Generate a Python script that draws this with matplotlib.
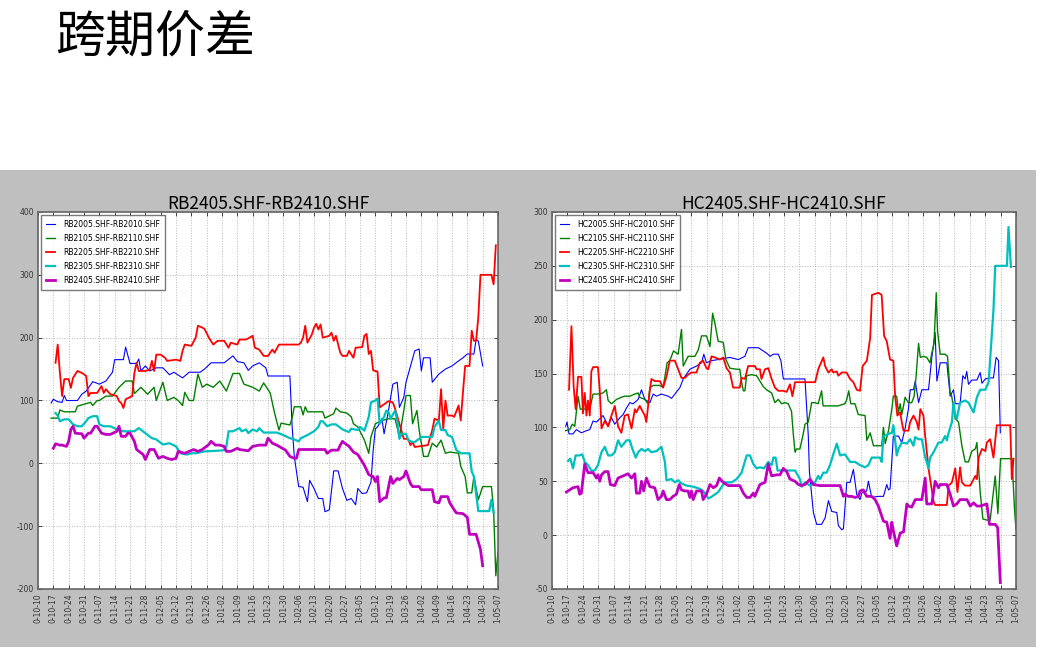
import matplotlib
matplotlib.use('Agg')
import matplotlib.pyplot as plt
from matplotlib.patches import Rectangle

plt.rcParams['axes.unicode_minus'] = False

# x axis: days counted from 10-10, one tick per week
tick_labels = ['0-10-10', '0-10-17', '0-10-24', '0-10-31', '0-11-07', '0-11-14', '0-11-21',
               '0-11-28', '0-12-05', '0-12-12', '0-12-19', '0-12-26', '1-01-02', '1-01-09',
               '1-01-16', '1-01-23', '1-01-30', '1-02-06', '1-02-13', '1-02-20', '1-02-27',
               '1-03-05', '1-03-12', '1-03-19', '1-03-26', '1-04-02', '1-04-09', '1-04-16',
               '1-04-23', '1-04-30', '1-05-07']

rb_names = ['RB2005.SHF-RB2010.SHF', 'RB2105.SHF-RB2110.SHF', 'RB2205.SHF-RB2210.SHF',
            'RB2305.SHF-RB2310.SHF', 'RB2405.SHF-RB2410.SHF']
hc_names = ['HC2005.SHF-HC2010.SHF', 'HC2105.SHF-HC2110.SHF', 'HC2205.SHF-HC2210.SHF',
            'HC2305.SHF-HC2310.SHF', 'HC2405.SHF-HC2410.SHF']

# (day, spread) pairs
rb05 = [(6,96),(7,102),(9,98),(11,97),(12,108),(13,100),(18,100),(20,110),(22,115),(25,130),(28,126),
        (31,131),(34,145),(35,165),(39,165),(40,185),(42,159),(45,159),(46,166),(47,147),(49,155),
        (51,147),(54,152),(57,152),(60,141),(62,145),(66,136),(69,145),(74,145),(76,150),(79,160),
        (85,160),(89,171),(91,162),(94,160),(96,148),(98,155),(101,160),(104,152),(105,139),(115,139),
        (116,60),(117,11),(119,-37),(121,-38),(123,-61),(124,-27),(126,-40),(128,-56),(130,-56),
        (131,-77),(133,-74),(135,-12),(137,-12),(139,-40),(141,-59),(143,-56),(145,-66),(146,-40),
        (148,-48),(150,-47),(152,-30),(153,20),(154,55),(155,58),(157,71),(158,47),(160,84),(162,126),
        (164,129),(165,89),(167,105),(168,129),(172,179),(174,182),(175,147),(176,168),(179,168),
        (180,129),(183,142),(186,150),(189,155),(192,163),(194,168),(196,174),(199,174),(200,197),
        (201,195),(203,155)]
rb06 = [(6,72),(9,72),(10,85),(12,82),(17,82),(18,91),(21,94),(24,97),(25,92),(27,100),(28,100),
        (31,107),(34,107),(37,121),(40,131),(43,131),(44,111),(47,121),(50,110),(53,121),(54,100),
        (57,129),(59,100),(62,105),(64,100),(66,92),(67,113),(69,100),(71,100),(73,142),(75,121),
        (77,126),(80,121),(83,131),(86,115),(89,143),(92,143),(94,126),(98,121),(101,115),(103,128),
        (106,112),(108,80),(110,53),(111,64),(115,61),(116,72),(117,90),(120,90),(121,77),(122,90),
        (123,82),(130,82),(131,72),(135,79),(136,88),(138,82),(141,80),(143,74),(144,63),(146,58),
        (149,37),(151,16),(152,42),(154,63),(157,68),(160,71),(163,71),(165,42),(167,84),(168,108),
        (170,108),(171,63),(173,84),(174,53),(176,11),(178,11),(180,32),(182,26),(184,37),(186,16),
        (188,18),(192,16),(193,-5),(195,-21),(196,-47),(198,-47),(199,-21),(201,-58),(203,-37),
        (207,-37),(208,-74),(209,-179),(210,-140)]
rb07 = [(8,160),(9,189),(10,144),(11,107),(12,134),(14,134),(15,120),(16,136),(18,147),(20,144),
        (22,139),(23,107),(24,112),(27,112),(29,123),(30,112),(31,118),(33,110),(36,107),(37,99),
        (38,96),(39,88),(40,102),(43,107),(44,144),(45,160),(46,147),(49,147),(51,149),(52,163),
        (53,147),(54,173),(56,173),(58,168),(59,163),(63,165),(65,163),(66,179),(67,189),(70,187),
        (72,200),(73,219),(75,216),(76,214),(78,200),(80,189),(82,195),(85,195),(87,184),(88,192),
        (91,189),(92,197),(95,197),(98,203),(99,184),(101,181),(103,171),(105,171),(107,181),(108,176),
        (110,189),(119,189),(120,192),(121,200),(122,219),(123,192),(125,205),(126,216),(127,222),
        (128,213),(129,221),(130,200),(133,203),(134,208),(135,195),(136,203),(138,176),(139,171),
        (141,171),(142,179),(144,168),(145,184),(148,185),(149,203),(150,206),(151,174),(152,179),
        (153,148),(155,146),(156,89),(158,94),(160,99),(162,97),(163,87),(165,63),(167,39),(169,39),
        (170,29),(171,34),(172,26),(178,29),(180,53),(181,71),(183,68),(184,118),(185,55),(186,100),
        (187,76),(189,76),(190,74),(192,92),(193,68),(194,113),(195,155),(197,155),(198,211),(199,195),
        (200,195),(201,232),(202,300),(207,300),(208,285),(209,347)]
rb08 = [(8,80),(9,76),(10,67),(12,70),(14,70),(16,62),(18,59),(20,59),(22,67),(23,72),(25,75),(27,75),
        (28,62),(30,59),(33,59),(36,54),(39,51),(44,51),(46,56),(49,48),(52,40),(54,38),(57,30),(60,32),
        (63,27),(65,16),(68,14),(70,16),(72,16),(76,19),(82,20),(85,21),(86,27),(87,51),(89,51),(92,56),
        (93,51),(95,54),(96,48),(98,54),(100,51),(101,56),(103,49),(109,49),(112,45),(115,40),(117,38),
        (119,35),(120,40),(123,45),(126,51),(128,58),(129,67),(130,67),(132,59),(134,62),(136,62),
        (139,54),(141,51),(142,50),(143,55),(146,53),(147,58),(149,52),(151,74),(152,97),(154,100),
        (155,103),(156,63),(158,74),(159,84),(160,82),(161,71),(163,84),(164,68),(165,39),(166,47),
        (168,47),(169,37),(171,34),(172,34),(174,39),(175,42),(180,42),(181,58),(183,68),(184,53),
        (186,53),(187,45),(189,42),(191,21),(193,16),(197,16),(198,-13),(199,-21),(201,-76),(206,-76),
        (207,-58),(208,-79)]
rb09 = [(7,24),(8,31),(10,29),(11,29),(13,27),(14,35),(15,54),(16,59),(17,48),(20,47),(21,40),(23,48),
        (24,48),(26,59),(27,59),(29,48),(31,46),(33,46),(36,51),(37,59),(38,43),(40,43),(41,48),(42,48),
        (44,35),(45,22),(48,14),(49,6),(51,22),(53,22),(55,8),(57,11),(59,8),(61,6),(63,8),(64,19),
        (67,16),(69,19),(71,22),(73,19),(75,22),(78,30),(79,35),(81,29),(83,29),(85,27),(86,19),(88,19),
        (91,24),(92,22),(94,21),(96,20),(98,27),(101,29),(104,29),(105,40),(107,32),(109,29),(110,27),
        (113,21),(115,11),(117,8),(118,8),(119,22),(131,22),(132,16),(134,21),(137,21),(138,29),
        (139,35),(140,32),(142,27),(144,18),(146,14),(149,-3),(151,-18),(153,-21),(154,-29),(155,-21),
        (156,-61),(158,-55),(159,-55),(161,-21),(162,-32),(164,-24),(165,-26),(167,-21),(168,-12),
        (170,-32),(171,-37),(174,-37),(175,-42),(180,-42),(181,-61),(183,-63),(184,-53),(187,-53),
        (188,-63),(190,-74),(191,-79),(194,-80),(196,-86),(197,-113),(200,-113),(202,-137),(203,-163)]

hc05 = [(6.2,101),(6.8,105),(7.7,94),(9.5,94),(11,98),(13.3,95),(15.6,97),(17.1,98),(18.6,106),
        (20.1,105),(21.6,108),(23.1,111),(24.6,105),(25.4,101),(26.9,109),(28.4,103),(30.7,109),
        (32.2,112),(33.7,118),(35.2,123),(36.7,122),(39,126),(40.5,135),(42,126),(44.3,123),(45.8,131),
        (47.3,129),(49.5,131),(52.6,129),(54.1,127),(55.6,131),(57.9,137),(59.4,145),(62.4,154),
        (65.4,157),(67.7,160),(68.7,168),(69.9,160),(72.2,162),(75.2,163),(80.5,165),(84.3,163),
        (87.3,166),(88.8,174),(93.4,174),(95.6,171),(97.1,169),(98.7,166),(100.2,168),(102.4,168),
        (103.6,162),(104.7,145),(114.5,145),(116,92),(116.5,59),(118.3,21),(119.8,10),(122,10),
        (123.6,16),(125.1,32),(126.6,22),(128.9,21),(129.6,9),(131.1,5),(131.9,6),(133.4,49),(134.9,49),
        (136.4,61),(137.9,38),(139.4,33),(140.2,39),(142.4,41),(143.2,50),(144.7,35),(147.7,36),(150,36),
        (151.5,47),(152.3,42),(153,43),(154.5,92),(156.8,92),(158.3,86),(159.8,99),(161.3,117),
        (162.1,135),(163.6,135),(164.4,143),(165.9,123),(167.4,135),(170.4,135),(171.9,165),(173.4,188),
        (174.2,143),(175.7,160),(178.7,160),(180.2,129),(181.7,135),(182.5,122),(184.7,122),(185.9,148),
        (187,145),(187.7,152),(188.5,140),(190,144),(192.3,144),(193.8,151),(194.6,141),(196.1,145),
        (198.3,146),(199.8,146),(201,165),(202.1,162),(202.9,95)]
hc06 = [(6.2,97),(8,98),(9.2,103),(10.3,101),(11.8,129),(12.8,117),(17.1,117),(18.6,131),(20.8,131),
        (23.1,132),(24.6,135),(25.4,125),(26.9,122),(29.2,126),(31.4,128),(32.9,129),(35.2,129),
        (37.5,131),(39,132),(39.7,128),(42,126),(43.5,122),(44.3,137),(45.8,139),(48.8,139),(50.3,137),
        (52.1,160),(53.3,162),(55,171),(57.1,168),(58.6,191),(59.4,157),(61.6,166),(64.7,166),(66.2,172),
        (67.7,185),(69.9,185),(71.5,175),(72.7,206),(73.7,197),(75.2,180),(77.5,179),(78.7,163),
        (80.5,155),(83.5,154),(85,154),(85.8,142),(86.6,134),(87.3,134),(88.1,148),(90.3,149),(92.6,148),
        (94.1,143),(95.6,138),(97.1,135),(99.4,132),(100.9,123),(102.4,126),(103.9,122),(105.4,123),
        (106.9,122),(108.4,115),(109.2,94),(110,77),(110.7,80),(112.2,80),(113.7,94),(114.5,103),
        (116,105),(117.5,123),(119,123),(120.5,122),(122,134),(122.7,120),(125,120),(129.5,120),
        (132.5,122),(133.3,125),(134.3,134),(135.2,122),(137.1,122),(138.6,112),(141.7,111),(142.5,88),
        (144,95),(145.5,83),(149.2,83),(150,100),(150.8,85),(152.3,97),(153.8,117),(154.5,129),(156,129),
        (156.8,114),(157.6,122),(158.3,112),(159.1,120),(159.8,128),(161.3,123),(162.8,123),(163.9,129),
        (164.8,148),(165.9,178),(166.7,165),(168.1,166),(169.6,165),(171.1,160),(171.9,169),(172.9,178),
        (173.9,225),(174.5,189),(175.7,168),(177.9,168),(179,166),(180.2,132),(180.9,129),(182.5,108),
        (184,105),(185.5,83),(187,68),(188.5,68),(190,78),(191.6,80),(192.3,86),(193.8,40),(195,15),
        (196.8,14),(198.3,14),(200.6,55),(201.8,20),(203,71),(208.2,71),(209.3,25),(210,5)]
hc07 = [(7.7,135),(8.8,194),(9.8,138),(10.7,117),(11.8,147),(13.3,147),(14,113),(14.8,132),(15.6,111),
        (16.3,125),(17.1,111),(17.8,152),(18.6,156),(20.8,156),(21.6,135),(22.4,99),(23.9,106),(25.4,101),
        (26.9,111),(28.4,120),(29.9,101),(31.4,95),(32.9,111),(34.4,112),(36,99),(37.5,117),(38.2,114),
        (39.7,120),(42,111),(42.7,105),(44.3,135),(45,145),(46.5,143),(48.8,143),(50.3,137),(51.8,147),
        (53.3,162),(55.6,162),(57.1,154),(58.6,146),(60.1,146),(61.6,149),(63.1,151),(65.4,151),
        (66.9,160),(68.4,162),(69.9,155),(70.7,154),(72.2,166),(73.7,165),(76,163),(77.5,165),(79,155),
        (80.5,151),(82,137),(85,137),(85.8,146),(87.3,145),(88.8,157),(91.8,157),(92.6,154),(94.1,154),
        (94.8,145),(96.4,154),(97.9,155),(99.4,145),(100.9,137),(102.4,134),(104.7,134),(106.2,133),
        (107.7,140),(108.8,129),(110,142),(119.1,142),(120.5,154),(121.3,158),(122.8,165),(123.6,157),
        (125.1,151),(126.6,154),(127.3,151),(128.9,152),(129.6,148),(131.1,151),(133.3,151),(134.9,145),
        (136.4,142),(137.9,135),(139.4,134),(140.6,157),(142.5,162),(144,183),(144.8,223),(147.7,225),
        (149.2,223),(150.3,185),(151.5,180),(153,163),(154.5,162),(155.3,129),(156.3,111),(157.6,114),
        (158.3,105),(159.1,97),(161.3,97),(162.1,105),(163.6,111),(165.1,105),(165.9,98),(166.7,117),
        (168.1,111),(168.9,92),(170.4,62),(172.7,31),(173.4,28),(178.7,28),(179.5,46),(181,49),
        (182.5,62),(183.5,40),(184.7,63),(185.5,49),(187,46),(189.3,46),(191.6,55),(192.3,52),(193.1,72),
        (194.6,80),(196.1,78),(196.8,86),(198.3,89),(199.8,72),(201.3,102),(207.4,102),(208.1,52),
        (208.9,71)]
hc08 = [(7.3,69),(8.3,71),(9.5,62),(10.7,74),(12.5,74),(13.7,75),(14.8,68),(16.3,65),(17.8,60),
        (19.3,60),(20.8,65),(22.4,77),(23.9,82),(25.4,74),(26.9,74),(28.4,77),(29.9,88),(31.4,82),
        (33.7,88),(35.2,88),(36.4,80),(37.9,72),(39,77),(40.5,80),(42,78),(43.5,80),(45,77),(47.3,78),
        (49.5,82),(51.1,68),(51.8,51),(54.1,52),(55.6,49),(57.1,51),(58.6,48),(60.9,46),(63.9,45),
        (66.9,43),(68.4,41),(69.9,37),(70.7,34),(72.5,36),(75.2,40),(78.2,49),(81.3,49),(83.5,52),
        (85.8,58),(88.1,74),(89.6,74),(91.1,66),(92.6,62),(94.1,63),(96,62),(97.9,68),(99.4,65),
        (100.2,72),(101.2,72),(102.1,60),(110,60),(112.2,52),(113,45),(114.5,49),(116.8,46),(119,49),
        (120.5,55),(121.3,52),(122.8,58),(124.3,58),(125.8,65),(127.3,75),(128.9,85),(130.4,74),
        (132.6,75),(134.9,68),(137.1,68),(139.4,65),(141.7,63),(143.2,65),(144.7,72),(148.4,72),
        (149.2,68),(150,92),(152.3,94),(153.8,95),(154.5,102),(155.3,88),(156,74),(156.8,80),(158.3,86),
        (160.6,85),(162.1,89),(163.6,83),(164.4,91),(165.9,89),(167.4,89),(168.9,72),(169.6,68),
        (170.4,62),(171.1,72),(172.7,77),(174.9,86),(176.4,86),(177.9,92),(178.7,88),(179.5,95),(181,105),
        (181.7,123),(182.5,111),(183.2,108),(184.7,123),(187,125),(188.5,123),(190,117),(190.8,114),
        (192.3,128),(193.8,135),(196.1,135),(197.6,142),(198.3,163),(199.8,209),(200.6,250),(205.9,250),
        (206.6,286),(207.7,249)]
hc09 = [(6.5,40),(8,42),(9.5,44),(11.8,45),(12.5,38),(13.3,39),(14.8,66),(16.3,58),(18.6,58),(20.1,53),
        (20.8,56),(21.6,50),(22.4,56),(23.9,59),(25.4,59),(26.4,47),(28.4,46),(29.9,53),(32.2,55),
        (34.4,57),(36,53),(37.5,57),(38.2,39),(39.7,39),(40.5,50),(41.5,41),(42.7,53),(44.3,45),(46.5,44),
        (48,33),(49.5,36),(50.3,41),(51.8,33),(53.3,33),(54.8,36),(56.3,38),(57.6,47),(58.6,42),(60.1,41),
        (61.6,41),(62.4,35),(63.1,41),(63.9,33),(65.4,41),(67.7,41),(68.4,33),(69.9,38),(71.5,47),(73,44),
        (74.5,46),(75.7,53),(77.5,49),(79.8,46),(85,46),(86.6,39),(88.1,35),(89.6,35),(91.1,39),(91.8,36),
        (94.1,47),(96.4,49),(97.9,66),(99.4,55),(101.7,56),(103.2,56),(104.7,62),(106.2,59),(107.7,52),
        (110,50),(111.5,47),(113,46),(114.5,47),(116.8,52),(118.3,47),(121.3,46),(130.4,46),(131.9,36),
        (132.6,38),(134.1,36),(135.6,36),(137.2,35),(138.7,36),(139.4,41),(140.9,42),(142.4,36),
        (144.7,36),(146.2,33),(147.7,27),(150,13),(151.5,12),(153,-3),(153.8,12),(154.5,4),(156,-10),
        (157.6,2),(159.1,3),(160.6,29),(161.3,27),(162.8,26),(164.4,33),(167.4,33),(168.9,53),(169.6,29),
        (171.9,29),(173.4,50),(174.9,44),(175.7,47),(178.7,47),(180.2,38),(181.7,27),(183.2,29),
        (184.7,33),(187.8,33),(189.3,27),(190.8,30),(192.3,27),(193.8,27),(196.8,29),(198,10),(200.6,10),
        (201.7,7),(202.9,-44)]

colors = ['b', 'g', 'r', 'c', 'm']
widths = [0.8, 1.0, 1.3, 1.6, 2.0]


def draw_panel(ax, title, names, series, ylim, yticks):
    for name, data, c, lw in zip(names, series, colors, widths):
        d, v = zip(*data)
        ax.plot(d, v, color=c, lw=lw, label=name)
    ax.set_xlim(0, 210)
    ax.set_ylim(*ylim)
    ax.set_xticks(range(0, 211, 7))
    ax.set_xticklabels(tick_labels, rotation=90)
    ax.set_yticks(yticks)
    ax.grid(True, color='0.72', ls=':', lw=0.7)
    ax.tick_params(labelsize=5.5, labelcolor='0.2', direction='in', length=3, width=0.5,
                   top=True, right=True, pad=3)
    for s in ax.spines.values():
        s.set_color('0.4')
        s.set_linewidth(1.2)
    ax.set_title(title, fontsize=12.5, family=['Noto Sans CJK SC', 'DejaVu Sans'], pad=2)
    leg = ax.legend(loc='upper left', fontsize=5.5, handlelength=1.2, handletextpad=1.0,
                    labelspacing=0.65, borderpad=0.65, borderaxespad=0.4, fancybox=False)
    leg.get_frame().set_edgecolor('0.35')
    leg.get_frame().set_linewidth(1.0)


fig = plt.figure(figsize=(10.4, 6.56), dpi=100)
fig.patch.set_facecolor('white')
fig.add_artist(Rectangle((0, 9 / 656), 1036 / 1040, 477 / 656, transform=fig.transFigure,
                         facecolor='#bfbfbf', edgecolor='none', zorder=-5))
fig.text(0.053, 0.982, '跨期价差', fontsize=36, va='top',
         family=['Noto Sans CJK SC', 'DejaVu Sans'])

ax1 = fig.add_axes([38 / 1040, 67 / 656, 460 / 1040, 377 / 656])
ax2 = fig.add_axes([552 / 1040, 67 / 656, 464 / 1040, 377 / 656])

draw_panel(ax1, 'RB2405.SHF-RB2410.SHF', rb_names, [rb05, rb06, rb07, rb08, rb09],
           (-200, 400), range(-200, 401, 100))
draw_panel(ax2, 'HC2405.SHF-HC2410.SHF', hc_names, [hc05, hc06, hc07, hc08, hc09],
           (-50, 300), range(-50, 301, 50))

fig.savefig('out.png', dpi=100)
